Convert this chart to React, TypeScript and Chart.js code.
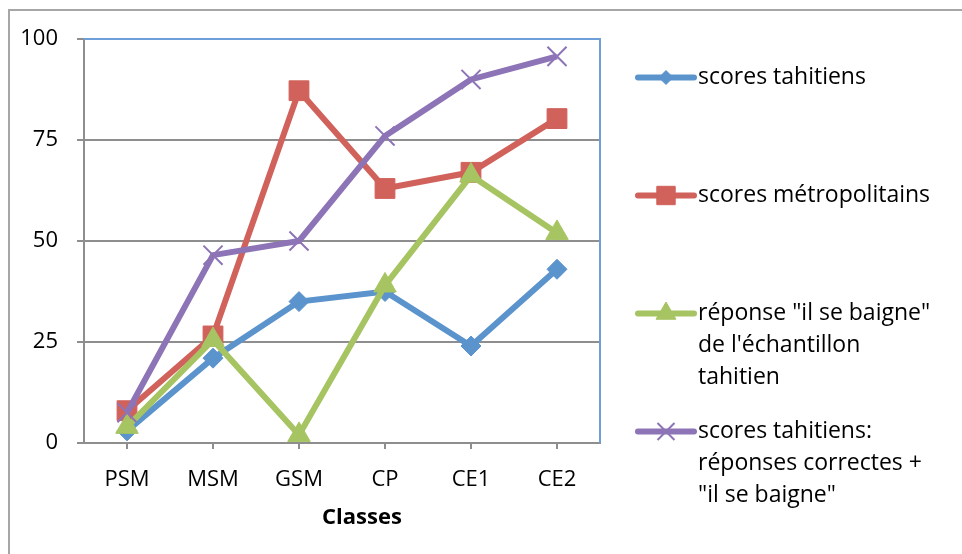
import React, { useEffect, useRef } from "react";
import { Chart, registerables } from "chart.js";
import { drawPoint } from "chart.js/helpers";

Chart.register(...registerables);

const categories = ["PSM", "MSM", "GSM", "CP", "CE1", "CE2"];
const scoresTahitiens = [3, 21, 35, 37.5, 24, 43];
const scoresMetropolitains = [8, 26.5, 87.2, 63, 67, 80.3];
const reponseBaigne = [4, 25.5, 2, 39, 66.2, 52];
const correctesPlusBaigne = [7.5, 46.5, 50, 76, 90, 95.7];
const yTicks = [0, 25, 50, 75, 100];

const legendLabels: string[][] = [
  ["scores tahitiens"],
  ["scores métropolitains"],
  ['réponse "il se baigne"', "de l'échantillon", "tahitien"],
  ["scores tahitiens:", "réponses correctes +", '"il se baigne"'],
];
const xTitle = "Classes";

const FONT = '"Open Sans", "DejaVu Sans", sans-serif';
const GRID = "#8e8e8e";
const FRAME_BLUE = "#6f9fd8";

const colors = ["#5b93cd", "#d0625b", "#a7c462", "#8d74b6"];
const styles = ["rectRot", "rect", "triangle", "crossRot"];
const radii = [10, 14, 13, 13.5];
const legendRadii = [7, 13, 11.5, 12];

const framePlugin = {
  id: "frame",
  beforeDraw(chart: any) {
    const { ctx, width, height } = chart;
    ctx.save();
    ctx.strokeStyle = "#a6a6a6";
    ctx.lineWidth = 2;
    ctx.beginPath();
    ctx.moveTo(9, height);
    ctx.lineTo(9, 10);
    ctx.lineTo(width, 10);
    ctx.stroke();
    ctx.restore();
  },
  beforeDatasetsDraw(chart: any) {
    const { ctx, chartArea: a } = chart;
    ctx.save();
    ctx.strokeStyle = FRAME_BLUE;
    ctx.lineWidth = 2;
    ctx.beginPath();
    ctx.moveTo(a.left, a.top);
    ctx.lineTo(a.right, a.top);
    ctx.lineTo(a.right, a.bottom);
    ctx.stroke();
    ctx.restore();
  },
  afterDraw(chart: any) {
    const { ctx, chartArea: a } = chart;
    ctx.save();
    // x axis title
    ctx.fillStyle = "#000";
    ctx.font = `bold 22px ${FONT}`;
    ctx.textAlign = "center";
    ctx.textBaseline = "middle";
    ctx.fillText(xTitle, (a.left + a.right) / 2 + 20, 518);

    // legend
    const x0 = a.right + 38;
    const lineLen = 56;
    const textX = x0 + lineLen + 4;
    let y = a.top + 38.5;
    ctx.font = `23px ${FONT}`;
    ctx.textAlign = "left";
    legendLabels.forEach((lines, i) => {
      ctx.strokeStyle = colors[i];
      ctx.lineWidth = 6;
      ctx.lineCap = "round";
      ctx.beginPath();
      ctx.moveTo(x0, y);
      ctx.lineTo(x0 + lineLen, y);
      ctx.stroke();
      ctx.lineCap = "butt";
      ctx.fillStyle = colors[i];
      ctx.strokeStyle = colors[i];
      ctx.lineWidth = i === 3 ? 2 : 1;
      drawPoint(
        ctx,
        { pointStyle: styles[i], rotation: 0, radius: legendRadii[i], borderWidth: i === 3 ? 2 : 1 } as any,
        x0 + lineLen / 2,
        y
      );
      ctx.fillStyle = "#000";
      lines.forEach((t, j) => ctx.fillText(t, textX, y + j * 32));
      y += 118;
    });
    ctx.restore();
  },
};

export default function App() {
  const canvasRef = useRef<HTMLCanvasElement | null>(null);

  useEffect(() => {
    if (!canvasRef.current) return;
    const series = [scoresTahitiens, scoresMetropolitains, reponseBaigne, correctesPlusBaigne];
    const chart = new Chart(canvasRef.current, {
      type: "line",
      data: {
        labels: categories,
        datasets: series.map((d, i) => ({
          label: legendLabels[i].join(" "),
          data: d,
          borderColor: colors[i],
          backgroundColor: colors[i],
          borderWidth: 6,
          pointStyle: styles[i] as any,
          pointRadius: radii[i],
          pointBorderWidth: i === 3 ? 2 : 1,
          pointBackgroundColor: colors[i],
          pointBorderColor: colors[i],
          tension: 0,
          fill: false,
          order: 4 - i,
        })),
      },
      options: {
        animation: false,
        responsive: false,
        maintainAspectRatio: false,
        layout: { padding: { left: 0, top: 39, right: 362, bottom: 0 } },
        plugins: {
          legend: { display: false },
          tooltip: { enabled: false },
          title: { display: false },
        },
        scales: {
          x: {
            type: "category",
            offset: true,
            grid: {
              offset: false,
              drawOnChartArea: false,
              drawTicks: true,
              tickLength: 6,
              color: GRID,
              lineWidth: 2,
            },
            border: { color: GRID, width: 2 },
            ticks: {
              color: "#000",
              font: { family: FONT, size: 22 },
              padding: 18,
              maxRotation: 0,
            },
            afterFit: (scale: any) => {
              scale.height = 111;
            },
          },
          y: {
            min: 0,
            max: 100,
            afterBuildTicks: (scale: any) => {
              scale.ticks = yTicks.map((v) => ({ value: v }));
            },
            grid: {
              color: GRID,
              lineWidth: 2,
              tickLength: 7,
              drawTicks: true,
            },
            border: { color: GRID, width: 2 },
            ticks: {
              color: "#000",
              font: { family: FONT, size: 22 },
              padding: 19,
            },
            afterFit: (scale: any) => {
              scale.width = 84;
            },
          },
        },
      },
      plugins: [framePlugin],
    });
    return () => chart.destroy();
  }, []);

  return (
    <div style={{ position: "fixed", left: 0, top: 0, width: 962, height: 554, background: "#fff" }}>
      <canvas ref={canvasRef} width={962} height={554} style={{ width: 962, height: 554, display: "block" }} />
    </div>
  );
}
